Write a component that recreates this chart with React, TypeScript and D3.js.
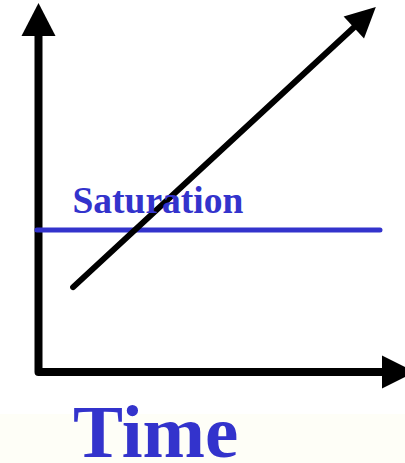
import React from 'react';
import { scaleLinear, line } from 'd3';

// normalised chart values (time 0..1, level 0..1)
const growthT = [0.092, 0.896];
const growthV = [0.23, 0.989];
const saturationLevel = 0.385;
const saturationT = [-0.004, 0.907];
const axisLabels = ['Time', 'Saturation'];

const W = 405;
const H = 463;
const BLUE = '#3333cc';

// arrowhead triangle with its tip at (x, y) pointing along (dx, dy)
function arrowHead(x: number, y: number, dx: number, dy: number, len: number, half: number) {
  const n = Math.hypot(dx, dy);
  const ux = dx / n, uy = dy / n;
  const bx = x - ux * len, by = y - uy * len;
  return `M${x},${y}L${bx - uy * half},${by + ux * half}L${bx + uy * half},${by - ux * half}Z`;
}

export default function App() {
  const x = scaleLinear().domain([0, 1]).range([38.5, 415]);
  const y = scaleLinear().domain([0, 1]).range([372, 3]);
  const path = line<[number, number]>().x((d) => x(d[0])).y((d) => y(d[1]));

  // axes
  const yHead = 33;
  const xHead = 33;
  const axesPath = path([
    [0, 1 - yHead / 369],
    [0, 0],
    [1 - xHead / 376.5, 0],
  ]);

  // growth line, shortened at the end for its arrowhead
  const gx0 = x(growthT[0]), gy0 = y(growthV[0]);
  const gx1 = x(growthT[1]), gy1 = y(growthV[1]);
  const gl = Math.hypot(gx1 - gx0, gy1 - gy0);
  const gHead = 30;
  const gEndX = gx1 - ((gx1 - gx0) / gl) * (gHead - 4);
  const gEndY = gy1 - ((gy1 - gy0) / gl) * (gHead - 4);

  return (
    <svg width={W} height={H} style={{ position: 'absolute', left: 0, top: 0, background: '#fff' }}>
      <rect x={0} y={414} width={W} height={H - 414} fill="#fefef7" />

      <path d={axesPath ?? ''} fill="none" stroke="#000" strokeWidth={8} strokeLinejoin="round" strokeLinecap="butt" />
      <path d={arrowHead(x(0), y(1), 0, -1, yHead, 17)} fill="#000" />
      <path d={arrowHead(x(1), y(0), 1, 0, xHead, 16.5)} fill="#000" />

      <line x1={x(saturationT[0])} x2={x(saturationT[1])} y1={y(saturationLevel)} y2={y(saturationLevel)}
        stroke={BLUE} strokeWidth={5} strokeLinecap="round" />

      <line x1={gx0} y1={gy0} x2={gEndX} y2={gEndY} stroke="#000" strokeWidth={6} strokeLinecap="round" />
      <path d={arrowHead(gx1, gy1, gx1 - gx0, gy1 - gy0, gHead, 15)} fill="#000" />

      <text x={72.5} y={213} fill={BLUE} fontFamily="'Liberation Serif', 'Times New Roman', serif" fontWeight="bold" fontSize={37.5}>
        {axisLabels[1]}
      </text>
      <text x={73} y={457} fill={BLUE} fontFamily="'Liberation Serif', 'Times New Roman', serif" fontWeight="bold" fontSize={75}>
        {axisLabels[0]}
      </text>
    </svg>
  );
}
